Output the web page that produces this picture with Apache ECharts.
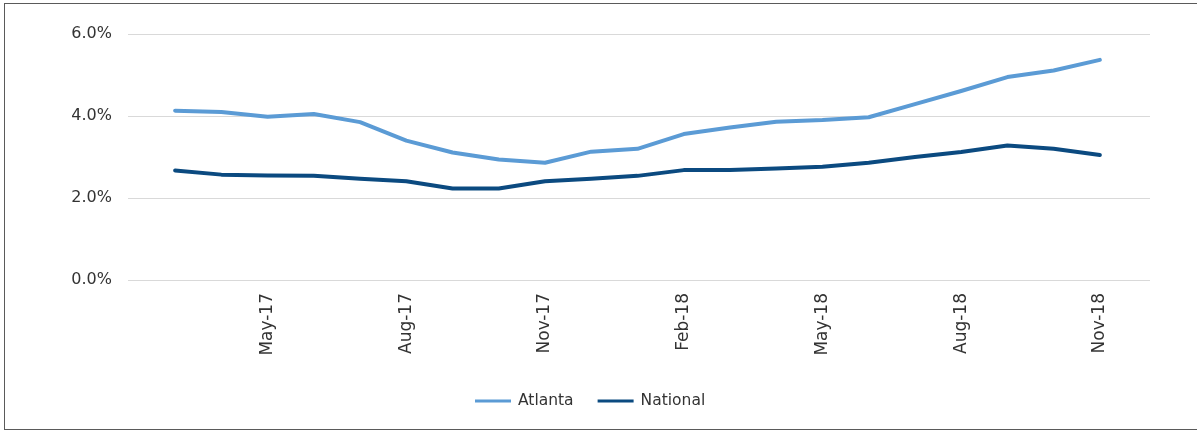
<!DOCTYPE html>
<html>
<head>
<meta charset="utf-8">
<script src="https://cdn.jsdelivr.net/npm/echarts@6/dist/echarts.min.js"></script>
<style>
  html, body { margin: 0; padding: 0; background: #fff; overflow: hidden; }
  #wrap { position: relative; width: 1197px; height: 431px; overflow: hidden; }
  #chart { position: absolute; left: 0; top: 0; width: 1197px; height: 431px; }
  /* outer frame: top, left and bottom edges only */
  #frame {
    position: absolute; left: 4px; top: 3px; width: 1400px; height: 425px;
    border-left: 1.5px solid #5a5a5a; border-top: 1.5px solid #5a5a5a; border-bottom: 1.5px solid #5a5a5a;
    pointer-events: none;
  }
</style>
</head>
<body>
<div id="wrap">
  <div id="chart"></div>
  <div id="frame"></div>
</div>
<script>
// Monthly categories
const months = [
  'Mar-17', 'Apr-17', 'May-17', 'Jun-17', 'Jul-17', 'Aug-17', 'Sep-17',
  'Oct-17', 'Nov-17', 'Dec-17', 'Jan-18', 'Feb-18', 'Mar-18', 'Apr-18', 'May-18',
  'Jun-18', 'Jul-18', 'Aug-18', 'Sep-18', 'Oct-18', 'Nov-18'
];

// Rates in percent
const atlanta = [
  4.13, 4.10, 3.98, 4.05, 3.85, 3.40, 3.11, 2.94, 2.86, 3.13, 3.20,
  3.56, 3.72, 3.86, 3.90, 3.97, 4.29, 4.61, 4.95, 5.11, 5.37
];
const national = [
  2.67, 2.57, 2.55, 2.54, 2.47, 2.41, 2.23, 2.23, 2.41, 2.47, 2.54,
  2.68, 2.68, 2.72, 2.76, 2.86, 3.00, 3.12, 3.28, 3.20, 3.05
];

const yTicks = [0, 2, 4, 6];

const FONT = '"DejaVu Sans", "Noto Sans", sans-serif';
const TOP = 34, BOTTOM = 151;
const chart = echarts.init(document.getElementById('chart'), null, { renderer: 'canvas' });

const yBase = {
  type: 'value',
  min: yTicks[0],
  max: yTicks[yTicks.length - 1],
  interval: 2,
  axisLine: { show: false },
  axisTick: { show: false }
};

chart.setOption({
  animation: false,
  backgroundColor: '#ffffff',
  textStyle: { fontFamily: FONT },
  // grid 0 carries the value scale and its gridlines, which run wider than the plotted months;
  // grid 1 holds the month axis and the two lines
  grid: [
    { left: 128, right: 47, top: TOP, bottom: BOTTOM },
    { left: 152, right: 74, top: TOP, bottom: BOTTOM }
  ],
  legend: {
    bottom: 17,
    left: 470,
    itemWidth: 36,
    itemHeight: 3,
    itemGap: 24,
    icon: 'rect',
    textStyle: { fontFamily: FONT, fontSize: 15.5, color: '#333', padding: [0, 0, 0, 2] },
    data: ['Atlanta', 'National']
  },
  xAxis: [
    {
      gridIndex: 0,
      type: 'category',
      data: months,
      show: false
    },
    {
      gridIndex: 1,
      type: 'category',
      data: months,
      boundaryGap: true,
      axisLine: { show: false },
      axisTick: { show: false },
      axisLabel: {
        interval: (idx) => idx % 3 === 2,
        rotate: 90,
        margin: 13,
        fontFamily: FONT,
        fontSize: 17,
        color: '#333'
      }
    }
  ],
  yAxis: [
    Object.assign({}, yBase, {
      gridIndex: 0,
      splitLine: { lineStyle: { color: '#d9d9d9', width: 1 } },
      axisLabel: {
        margin: 16,
        fontFamily: FONT,
        fontSize: 16,
        color: '#333',
        formatter: (v) => v.toFixed(1) + '%'
      }
    }),
    Object.assign({}, yBase, {
      gridIndex: 1,
      splitLine: { show: false },
      axisLabel: { show: false }
    })
  ],
  series: [
    {
      name: 'Atlanta',
      type: 'line',
      xAxisIndex: 1,
      yAxisIndex: 1,
      data: atlanta,
      symbol: 'none',
      lineStyle: { color: '#5b9bd5', width: 4, cap: 'round', join: 'round' },
      itemStyle: { color: '#5b9bd5' }
    },
    {
      name: 'National',
      type: 'line',
      xAxisIndex: 1,
      yAxisIndex: 1,
      data: national,
      symbol: 'none',
      lineStyle: { color: '#0b4a80', width: 4, cap: 'round', join: 'round' },
      itemStyle: { color: '#0b4a80' }
    }
  ]
});
</script>
</body>
</html>
